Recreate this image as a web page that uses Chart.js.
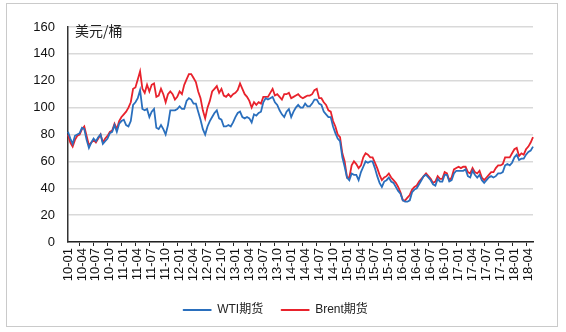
<!DOCTYPE html>
<html>
<head>
<meta charset="utf-8">
<script src="https://cdn.jsdelivr.net/npm/chart.js@4/dist/chart.umd.min.js"></script>
<style>
    html, body { margin: 0; padding: 0; background: #fff; }
    #wrap { position: relative; width: 566px; height: 332px; }
    #frame { position: absolute; left: 6px; top: 3px; width: 550px; height: 322px; border: 1px solid #cacaca; }
    #oil-chart { position: absolute; left: 0; top: 0; }
</style>
</head>
<body>
<div id="wrap">
    <div id="frame"></div>
    <canvas id="oil-chart" width="566" height="332"></canvas>
</div>
<script>
// quarter tick labels, one every 6 half-month points
var quarter_labels = [
    "10-01", "10-04", "10-07", "10-10", "11-01", "11-04", "11-07", "11-10",
    "12-01", "12-04", "12-07", "12-10", "13-01", "13-04", "13-07", "13-10",
    "14-01", "14-04", "14-07", "14-10", "15-01", "15-04", "15-07", "15-10",
    "16-01", "16-04", "16-07", "16-10", "17-01", "17-04", "17-07", "17-10",
    "18-01", "18-04"
];

// half-month prices, USD per barrel (2010-01 .. 2018-05)
var wti_values = [
    82, 77, 73, 79, 80, 81, 85, 84, 76, 70, 74, 77, 75, 78, 80, 73, 75, 77, 81, 82, 87, 82, 88, 90,
    91, 87, 86, 90, 102, 104, 107, 113, 99, 98, 99, 93, 97, 99, 85, 84, 87, 84, 80, 87, 98, 98, 98, 99,
    101, 99, 99, 105, 107, 106, 103, 103, 97, 91, 84, 80, 86, 90, 93, 96, 98, 92, 91, 86, 86, 87, 86, 89,
    93, 96, 97, 93, 92, 93, 92, 89, 95, 94, 96, 97, 104, 107, 106, 107, 108, 104, 102, 98, 95, 93, 97, 99,
    93, 97, 100, 102, 100, 100, 103, 101, 101, 103, 106, 106, 103, 102, 97, 95, 93, 93, 86, 81, 77, 75, 63, 56,
    48, 46, 51, 50, 50, 46, 52, 56, 60, 59, 60, 60, 55, 49, 44, 41, 45, 46, 48, 45, 44, 41, 38, 36,
    31, 30, 30, 31, 37, 39, 40, 43, 46, 49, 50, 48, 46, 43, 42, 47, 45, 45, 50, 50, 45, 46, 51, 53,
    53, 53, 53, 54, 49, 48, 53, 50, 48, 50, 46, 44, 46, 48, 49, 48, 49, 51, 51, 52, 57, 58, 57, 59,
    63, 65, 61, 62, 62, 65, 67, 68, 71
];

var brent_values = [
    80, 74, 71, 76, 79, 80, 84, 86, 79, 72, 74, 76, 74, 77, 80, 74, 77, 79, 82, 83, 88, 84, 90, 93,
    95, 97, 100, 104, 114, 115, 121, 127, 114, 111, 117, 112, 117, 118, 108, 109, 114, 110, 104, 110, 112, 110, 106, 108,
    112, 110, 117, 121, 125, 125, 122, 119, 112, 107, 98, 92, 100, 105, 112, 114, 116, 111, 114, 109, 108, 110, 108, 110,
    111, 113, 118, 114, 110, 108, 105, 100, 104, 102, 104, 103, 108, 108, 108, 111, 114, 109, 110, 108, 106, 110, 110, 111,
    107, 108, 109, 110, 108, 107, 108, 109, 109, 110, 113, 114, 107, 107, 104, 102, 98, 97, 90, 86, 80, 78, 66, 60,
    48, 48, 57, 60, 58, 55, 57, 63, 66, 65, 63, 63, 59, 55, 50, 46, 48, 49, 51, 48, 46, 44, 41, 37,
    31, 31, 33, 35, 39, 41, 42, 45, 47, 49, 51, 49, 47, 44, 45, 49, 47, 47, 52, 51, 46, 48, 54, 55,
    56, 55, 56, 56, 52, 51, 55, 52, 51, 53, 48, 46, 48, 50, 52, 52, 55, 57, 57, 58, 63, 63, 63, 66,
    69, 70, 64, 66, 65, 69, 71, 74, 78
];

var series_names = ["WTI期货", "Brent期货"];
var y_unit = "美元/桶";

var categories = wti_values.map(function (v, i) {
    return i % 6 === 0 ? quarter_labels[i / 6] : "";
});

// unit text in the top-left corner of the plot, legend nudged right a bit
var unit_plugin = {
    id: 'unitLabel',
    afterLayout: function (chart) {
        if (chart.legend) {
            chart.legend.left += 9;
            chart.legend.right += 9;
        }
    },
    afterDraw: function (chart) {
        var ctx = chart.ctx;
        ctx.save();
        ctx.font = '14px "Noto Sans CJK SC"';
        ctx.fillStyle = '#222';
        ctx.textBaseline = 'middle';
        ctx.fillText(y_unit, chart.chartArea.left + 7, chart.chartArea.top + 4);
        ctx.restore();
    }
};

var oil_chart_config = {
    type: 'line',
    data: {
        labels: categories,
        datasets: [{
            label: series_names[0],
            data: wti_values,
            borderColor: "#2a6fbd",
            backgroundColor: "#2a6fbd",
            borderWidth: 1.8,
            pointRadius: 0,
            tension: 0
        }, {
            label: series_names[1],
            data: brent_values,
            borderColor: "#e8222c",
            backgroundColor: "#e8222c",
            borderWidth: 1.8,
            pointRadius: 0,
            tension: 0
        }]
    },
    options: {
        responsive: false,
        animation: false,
        layout: {
            padding: { top: 27, left: 0, right: 33, bottom: 6 }
        },
        scales: {
            x: {
                offset: false,
                afterFit: function (scale) { scale.height = 44; },
                grid: {
                    drawOnChartArea: false,
                    tickLength: 4,
                    color: function (c) { return c.index % 6 === 5 ? '#222' : 'rgba(0,0,0,0)'; }
                },
                border: { color: '#222', width: 1.5 },
                ticks: {
                    autoSkip: false,
                    minRotation: 90,
                    maxRotation: 90,
                    padding: 2,
                    color: '#111',
                    font: { family: '"Liberation Sans"', size: 13 }
                }
            },
            y: {
                min: 0,
                max: 160,
                afterFit: function (scale) { scale.width = 68; },
                grid: { color: '#d9d9d9', lineWidth: 1.5, drawTicks: false },
                border: { color: '#333', width: 1.5 },
                ticks: {
                    stepSize: 20,
                    padding: 13,
                    color: '#111',
                    font: { family: '"Liberation Sans"', size: 13 }
                }
            }
        },
        plugins: {
            legend: {
                position: 'bottom',
                labels: {
                    boxWidth: 28,
                    boxHeight: 1,
                    padding: 18,
                    color: '#222',
                    font: { family: '"Liberation Sans", "Noto Sans CJK SC"', size: 12 },
                    generateLabels: function (chart) {
                        var items = Chart.defaults.plugins.legend.labels.generateLabels(chart);
                        items.forEach(function (it) { it.lineWidth = 1; });
                        return items;
                    }
                }
            },
            tooltip: { enabled: false }
        }
    },
    plugins: [unit_plugin]
};

var oil_chart_ctx = document.getElementById("oil-chart").getContext("2d");

new Chart(oil_chart_ctx, oil_chart_config);
</script>
</body>
</html>
